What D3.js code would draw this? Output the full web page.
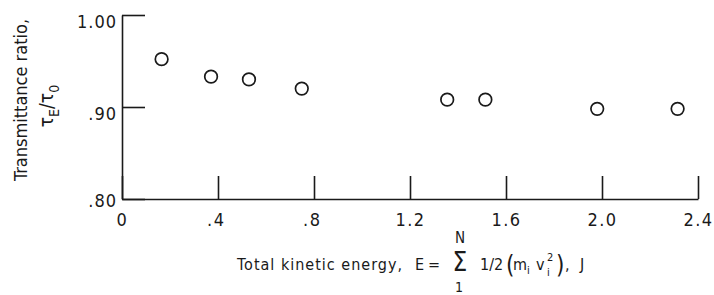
<!DOCTYPE html>
<html>
<head>
<meta charset="utf-8">
<script src="https://cdn.jsdelivr.net/npm/d3@7"></script>
<style>
  html, body { margin: 0; padding: 0; background: #fff; }
  svg { display: block; }
  text { font-family: "DejaVu Sans Condensed", "Liberation Sans Narrow", "DejaVu Sans", sans-serif; font-stretch: condensed; fill: #1a1a1a; }
</style>
</head>
<body>
<script>
// ---- data ----
const energy = [0.165, 0.371, 0.529, 0.749, 1.355, 1.514, 1.980, 2.315];
const transmittance = [0.952, 0.933, 0.930, 0.920, 0.908, 0.908, 0.898, 0.898];
const xTickValues = [0, 0.4, 0.8, 1.2, 1.6, 2.0, 2.4];
const xTickLabels = ["0", ".4", ".8", "1.2", "1.6", "2.0", "2.4"];
const yTickValues = [0.80, 0.90, 1.00];
const yTickLabels = [".80", ".90", "1.00"];

const W = 714, H = 295;
const svg = d3.select("body").append("svg").attr("width", W).attr("height", H);

const x = d3.scaleLinear().domain([0, 2.4]).range([122, 698]);
const y = d3.scaleLinear().domain([0.80, 1.00]).range([199, 15]);
const ink = "#1a1a1a";

// x axis
const xAxis = d3.axisBottom(x)
  .tickValues(xTickValues)
  .tickSize(-23)
  .tickSizeOuter(0)
  .tickPadding(14)
  .tickFormat((d, i) => xTickLabels[i]);
const gx = svg.append("g").attr("transform", `translate(0,${y(0.80)})`).call(xAxis);
gx.attr("font-family", null).attr("font-size", null);
gx.select(".domain").attr("stroke", ink).attr("stroke-width", 1.6);
gx.selectAll(".tick line").attr("stroke", ink).attr("stroke-width", 1.6);
gx.selectAll(".tick text")
  .attr("font-size", 18)
  .attr("letter-spacing", 1.5)
  .attr("fill", ink)
  .each(function(d, i) {
    if (xTickLabels[i].startsWith(".")) d3.select(this).attr("text-anchor", "end").attr("dx", 7);
  });

// y axis
const yAxis = d3.axisLeft(y)
  .tickValues(yTickValues)
  .tickSize(-23)
  .tickSizeOuter(0)
  .tickPadding(5)
  .tickFormat((d, i) => yTickLabels[i]);
const gy = svg.append("g").attr("transform", `translate(${x(0)},0)`).call(yAxis);
gy.attr("font-family", null).attr("font-size", null);
gy.select(".domain").attr("stroke", ink).attr("stroke-width", 1.6);
gy.selectAll(".tick line").attr("stroke", ink).attr("stroke-width", 1.6);
gy.selectAll(".tick text")
  .attr("font-size", 18)
  .attr("letter-spacing", 1)
  .attr("dy", (d) => d === 0.80 ? "0.4em" : "0.68em")
  .attr("fill", ink);

// points
svg.append("g").selectAll("circle")
  .data(energy.map((e, i) => [e, transmittance[i]]))
  .join("circle")
  .attr("cx", d => x(d[0]))
  .attr("cy", d => y(d[1]))
  .attr("r", 6.3)
  .attr("fill", "none")
  .attr("stroke", ink)
  .attr("stroke-width", 1.7);

// y title
svg.append("text")
  .attr("transform", "translate(27,100) rotate(-90)")
  .attr("text-anchor", "middle").attr("font-size", 18)
  .text("Transmittance ratio,");
const t2 = svg.append("text")
  .attr("transform", "translate(53,106) rotate(-90)")
  .attr("text-anchor", "middle").attr("font-size", 19);
t2.append("tspan").text("τ");
t2.append("tspan").attr("font-size", 14).attr("dy", 6).text("E");
t2.append("tspan").attr("dy", -6).text("/τ");
t2.append("tspan").attr("font-size", 14).attr("dy", 6).text("0");

// x title
const xt = svg.append("g");
const fs = 16;
xt.append("text").attr("x", 237).attr("y", 270).attr("font-size", fs)
  .attr("textLength", 165).attr("lengthAdjust", "spacing")
  .text("Total kinetic energy,");
xt.append("text").attr("x", 415).attr("y", 270).attr("font-size", fs).text("E");
xt.append("text").attr("x", 428).attr("y", 270).attr("font-size", fs).text("=");
xt.append("text").attr("x", 460).attr("y", 271).attr("font-size", 26).attr("text-anchor", "middle").text("Σ");
xt.append("text").attr("x", 460).attr("y", 243).attr("font-size", 15).attr("text-anchor", "middle").text("N");
xt.append("text").attr("x", 459).attr("y", 291.5).attr("font-size", 14).attr("text-anchor", "middle").text("1");
xt.append("text").attr("x", 480).attr("y", 270).attr("font-size", fs).text("1/2");
xt.append("text").attr("x", 506).attr("y", 273).attr("font-size", 24).attr("font-weight", 300).text("(");
xt.append("text").attr("x", 513).attr("y", 270).attr("font-size", fs).text("m");
xt.append("text").attr("x", 527).attr("y", 274).attr("font-size", 11).text("i");
xt.append("text").attr("x", 536).attr("y", 270).attr("font-size", fs).text("v");
xt.append("text").attr("x", 547).attr("y", 261).attr("font-size", 11).text("2");
xt.append("text").attr("x", 547).attr("y", 276).attr("font-size", 11).text("i");
xt.append("text").attr("x", 556).attr("y", 273).attr("font-size", 24).attr("font-weight", 300).text(")");
xt.append("text").attr("x", 565).attr("y", 270).attr("font-size", fs).text(",");
xt.append("text").attr("x", 580).attr("y", 270).attr("font-size", fs).text("J");
</script>
</body>
</html>
